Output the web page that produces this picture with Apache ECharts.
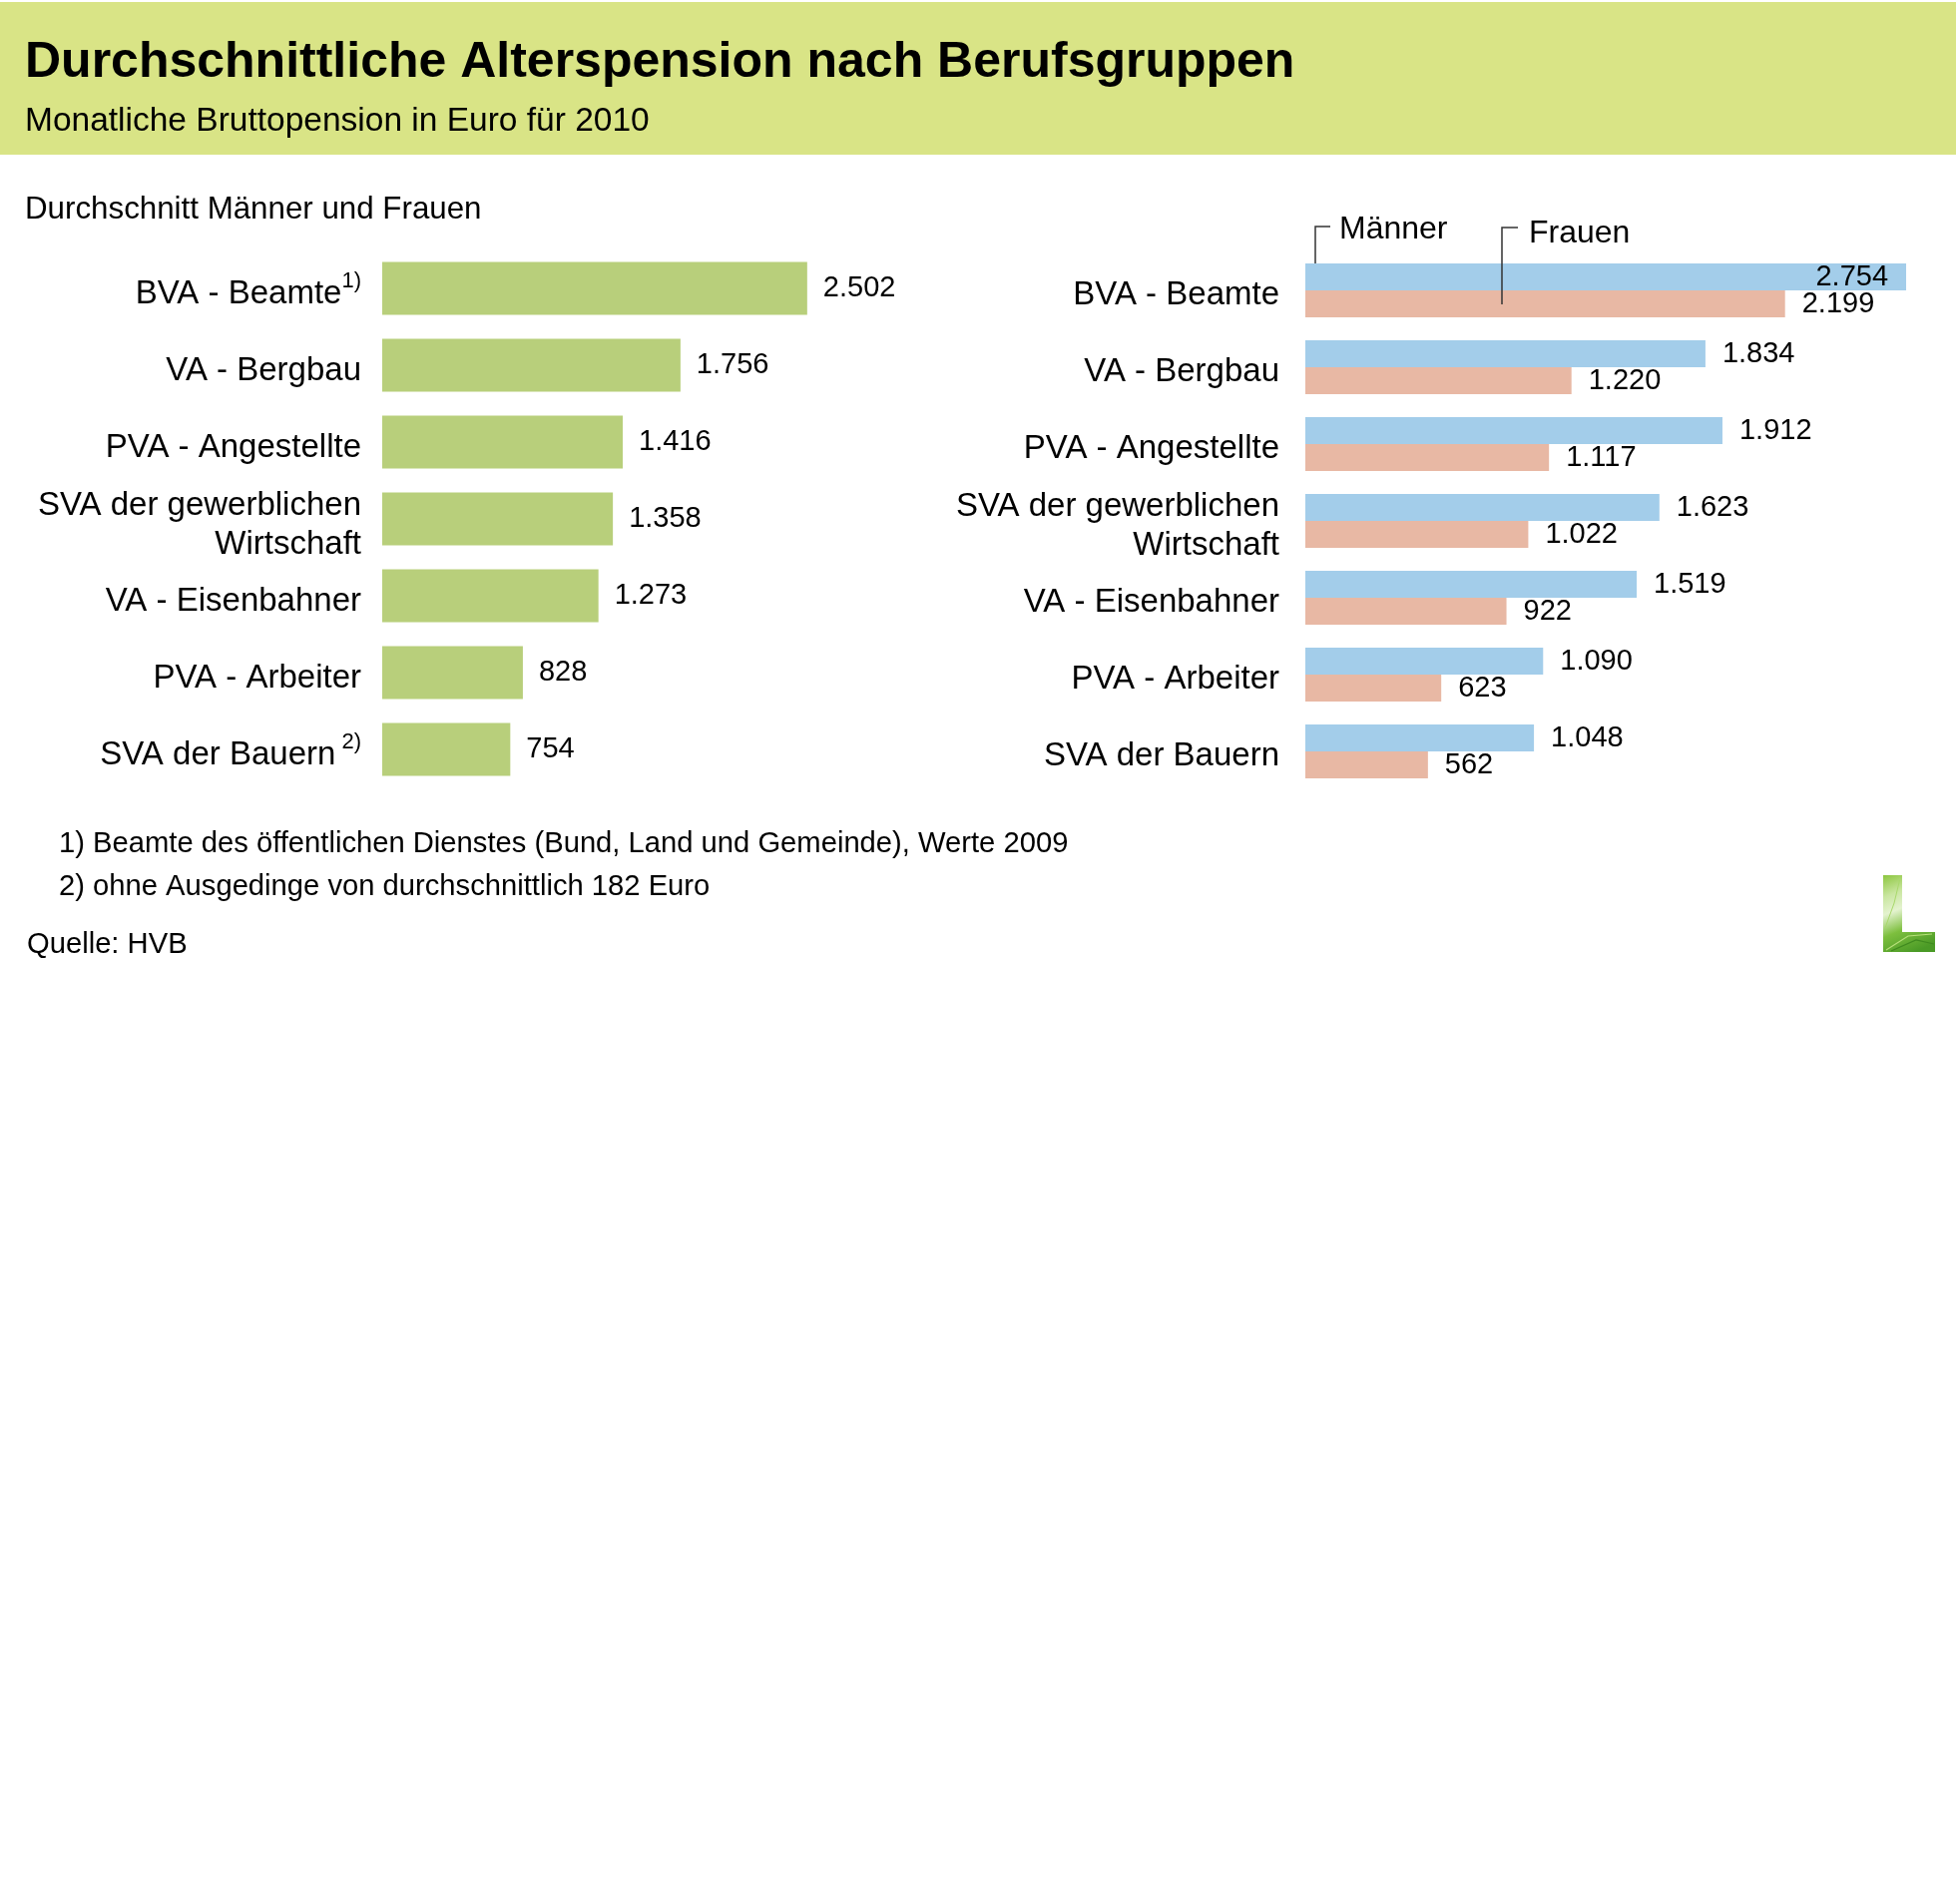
<!DOCTYPE html>
<html>
<head>
<meta charset="utf-8">
<script src="https://cdn.jsdelivr.net/npm/echarts@6/dist/echarts.min.js"></script>
<style>
html,body{margin:0;padding:0;background:#fff;}
#chart{width:1963px;height:1908px;}
</style>
</head>
<body>
<div id="chart"></div>
<script>
// ---- data ----
const categories = ['BVA - Beamte', 'VA - Bergbau', 'PVA - Angestellte', 'SVA der gewerblichen\nWirtschaft', 'VA - Eisenbahner', 'PVA - Arbeiter', 'SVA der Bauern'];
const leftNotes = ['1)', '', '', '', '', '', ' 2)'];
const averageValues = [2502, 1756, 1416, 1358, 1273, 828, 754];
const mannerValues = [2754, 1834, 1912, 1623, 1519, 1090, 1048];
const frauenValues = [2199, 1220, 1117, 1022, 922, 623, 562];
const seriesNames = ['Männer', 'Frauen'];
const titleText = 'Durchschnittliche Alterspension nach Berufsgruppen';
const subtitleText = 'Monatliche Bruttopension in Euro für 2010';
const leftHeading = 'Durchschnitt Männer und Frauen';
const footnotes = ['1) Beamte des öffentlichen Dienstes (Bund, Land und Gemeinde), Werte 2009', '2) ohne Ausgedinge von durchschnittlich 182 Euro'];
const sourceText = 'Quelle: HVB';

// ---- chart ----
const FONT = "'Liberation Sans', Arial, Helvetica, sans-serif";
const fmt = v => String(v).replace(/\B(?=(\d{3})+(?!\d))/g, '.');
const chart = echarts.init(document.getElementById('chart'));

const valueLabel = (dist) => ({
  show: true, position: 'right', distance: dist,
  fontFamily: FONT, fontSize: 29, color: '#000',
  formatter: p => fmt(p.value)
});

const option = {
  backgroundColor: '#ffffff',
  animation: false,
  textStyle: { fontFamily: FONT },
  grid: [
    { left: 383, top: 250.5, width: 3000 * 0.1702, height: 539, containLabel: false },
    { left: 1308, top: 252.5, width: 2800 * 0.2186, height: 539, containLabel: false }
  ],
  xAxis: [
    { gridIndex: 0, type: 'value', min: 0, max: 3000, show: false },
    { gridIndex: 1, type: 'value', min: 0, max: 2800, show: false }
  ],
  yAxis: [
    {
      gridIndex: 0, type: 'category', data: categories, inverse: true,
      axisLine: { show: false }, axisTick: { show: false }, splitLine: { show: false },
      axisLabel: {
        margin: 21, fontFamily: FONT, fontSize: 33, lineHeight: 39, color: '#000', align: 'right',
        padding: [12, 0, 0, 0],
        formatter: (val, idx) => leftNotes[idx] ? '{a|' + val + '}{s|' + leftNotes[idx] + '}' : val,
        rich: {
          a: { fontFamily: FONT, fontSize: 33, lineHeight: 48, color: '#000' },
          s: { fontFamily: FONT, fontSize: 22, lineHeight: 20, color: '#000', verticalAlign: 'top' }
        }
      }
    },
    {
      gridIndex: 1, type: 'category', data: categories, inverse: true,
      axisLine: { show: false }, axisTick: { show: false }, splitLine: { show: false },
      axisLabel: {
        margin: 26, fontFamily: FONT, fontSize: 33, lineHeight: 39, color: '#000', align: 'right',
        padding: [10, 0, 0, 0],
        formatter: val => val,
        rich: {
          a: { fontFamily: FONT, fontSize: 33, lineHeight: 39, color: '#000' }
        }
      }
    }
  ],
  series: [
    {
      type: 'bar', xAxisIndex: 0, yAxisIndex: 0, data: averageValues,
      barWidth: 53, itemStyle: { color: '#b8cf7b' }, label: valueLabel(16)
    },
    {
      name: seriesNames[0], type: 'bar', xAxisIndex: 1, yAxisIndex: 1,
      data: mannerValues.map((v, i) => i === 0 ? { value: v, label: { position: 'insideRight', distance: 18 } } : v),
      barWidth: 27, barGap: '0%', itemStyle: { color: '#a3cdea' }, label: valueLabel(17)
    },
    {
      name: seriesNames[1], type: 'bar', xAxisIndex: 1, yAxisIndex: 1, data: frauenValues,
      barWidth: 27, barGap: '0%', itemStyle: { color: '#e8b8a4' }, label: valueLabel(17)
    }
  ],
  graphic: [
    { type: 'rect', shape: { x: 0, y: 2, width: 1960, height: 153 }, style: { fill: '#d9e486' }, z: -10 },
    { type: 'text', x: 25, y: 63, style: { text: titleText, font: 'bold 50px ' + FONT, fill: '#000', verticalAlign: 'middle' } },
    { type: 'text', x: 25, y: 122, style: { text: subtitleText, font: '33.5px ' + FONT, fill: '#000', verticalAlign: 'middle' } },
    { type: 'text', x: 25, y: 210, style: { text: leftHeading, font: '31.3px ' + FONT, fill: '#000', verticalAlign: 'middle' } },
    { type: 'text', x: 59, y: 846, style: { text: footnotes[0], font: '29.2px ' + FONT, fill: '#000', verticalAlign: 'middle' } },
    { type: 'text', x: 59, y: 889, style: { text: footnotes[1], font: '29.2px ' + FONT, fill: '#000', verticalAlign: 'middle' } },
    { type: 'text', x: 27, y: 947, style: { text: sourceText, font: '29.2px ' + FONT, fill: '#000', verticalAlign: 'middle' } },
    // legend leaders
    { type: 'polyline', shape: { points: [[1318, 265], [1318, 227], [1333, 227]] }, style: { stroke: '#333', lineWidth: 1.5, fill: null } },
    { type: 'text', x: 1342, y: 230, style: { text: seriesNames[0], font: '32px ' + FONT, fill: '#000', verticalAlign: 'middle' } },
    { type: 'polyline', shape: { points: [[1505, 305], [1505, 228], [1521, 228]] }, style: { stroke: '#333', lineWidth: 1.5, fill: null }, z: 10 },
    { type: 'text', x: 1532, y: 234, style: { text: seriesNames[1], font: '32px ' + FONT, fill: '#000', verticalAlign: 'middle' } },
    // logo
    {
      type: 'polygon',
      shape: { points: [[1887, 877], [1906, 877], [1906, 934], [1939, 934], [1939, 954], [1887, 954]] },
      style: {
        fill: new echarts.graphic.LinearGradient(0, 0, 0.6, 1, [
          { offset: 0, color: '#8cc63f' },
          { offset: 0.25, color: '#c9e6a0' },
          { offset: 0.45, color: '#e4f3cf' },
          { offset: 0.7, color: '#7dbf3e' },
          { offset: 1, color: '#4a9a26' }
        ])
      }
    },
    { type: 'polyline', shape: { points: [[1890, 952], [1912, 938], [1936, 936]] }, style: { stroke: '#b7e07a', lineWidth: 1.2, fill: null } },
    { type: 'polyline', shape: { points: [[1895, 953], [1920, 942], [1938, 946]] }, style: { stroke: '#3f8a1f', lineWidth: 1.2, fill: null } },
    { type: 'polyline', shape: { points: [[1889, 930], [1898, 905], [1904, 880]] }, style: { stroke: '#a9d96b', lineWidth: 1, fill: null } }
  ]
};
chart.setOption(option);
</script>
</body>
</html>
